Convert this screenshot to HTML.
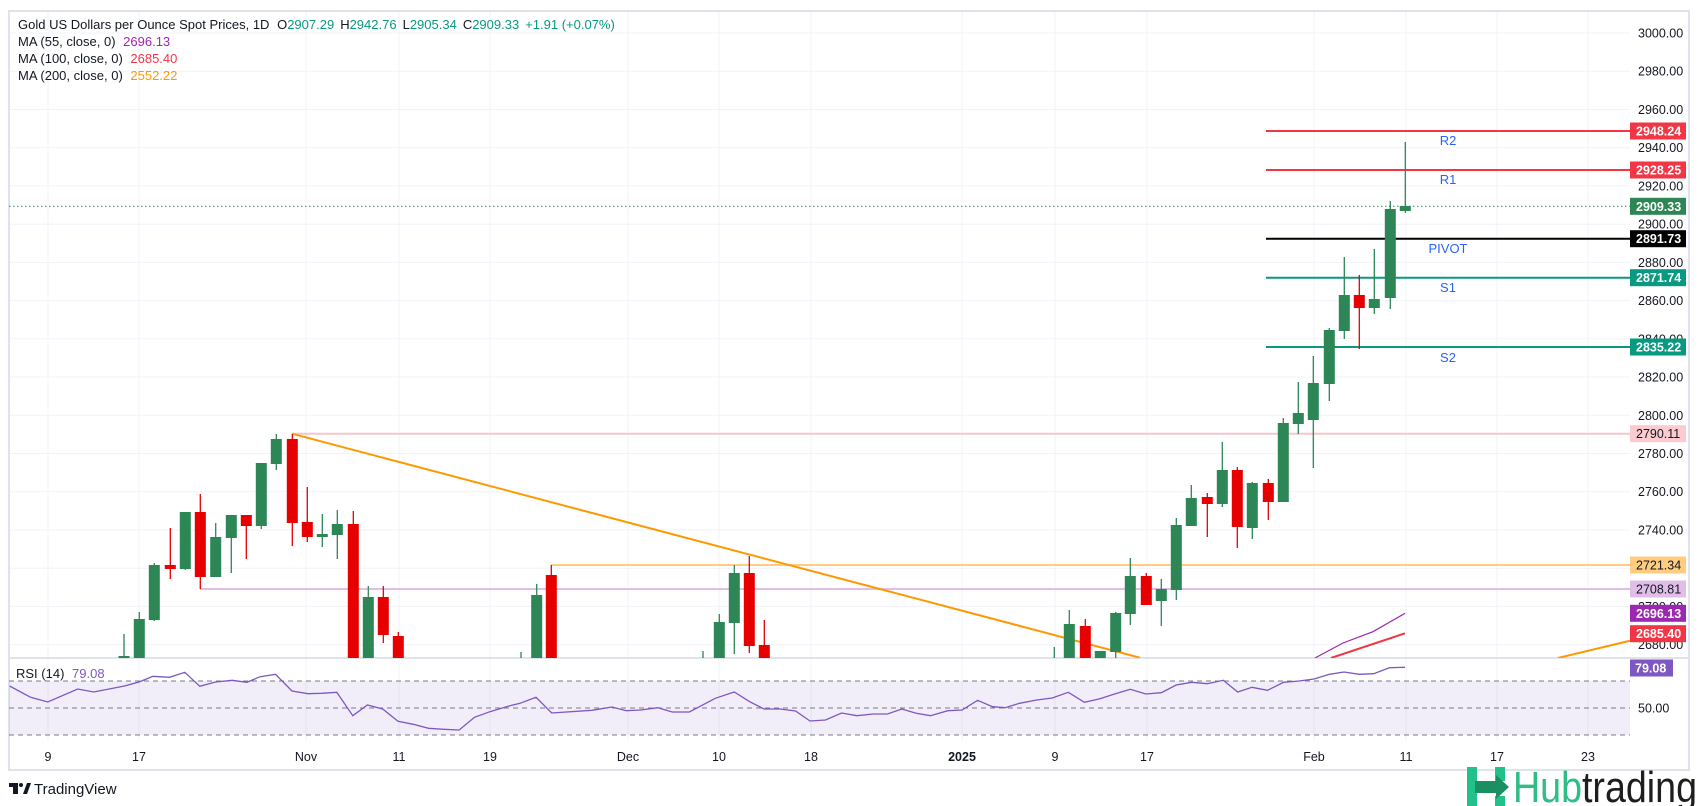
<!DOCTYPE html>
<html><head><meta charset="utf-8"><style>
html,body{margin:0;padding:0;background:#fff;}
svg{display:block;font-family:"Liberation Sans",Arial,sans-serif;}
</style></head><body>
<svg width="1700" height="806" viewBox="0 0 1700 806" xmlns="http://www.w3.org/2000/svg">
<defs><clipPath id="pc"><rect x="9" y="11" width="1621" height="647"/></clipPath></defs>
<rect width="1700" height="806" fill="#fff"/>
<g stroke="#f0f3fa" stroke-width="1">
<line x1="9" x2="1630" y1="33" y2="33"/><line x1="9" x2="1630" y1="71.2" y2="71.2"/><line x1="9" x2="1630" y1="109.5" y2="109.5"/><line x1="9" x2="1630" y1="147.7" y2="147.7"/><line x1="9" x2="1630" y1="185.9" y2="185.9"/><line x1="9" x2="1630" y1="224.2" y2="224.2"/><line x1="9" x2="1630" y1="262.4" y2="262.4"/><line x1="9" x2="1630" y1="300.6" y2="300.6"/><line x1="9" x2="1630" y1="338.8" y2="338.8"/><line x1="9" x2="1630" y1="377" y2="377"/><line x1="9" x2="1630" y1="415.3" y2="415.3"/><line x1="9" x2="1630" y1="453.5" y2="453.5"/><line x1="9" x2="1630" y1="491.7" y2="491.7"/><line x1="9" x2="1630" y1="530" y2="530"/><line x1="9" x2="1630" y1="568.2" y2="568.2"/><line x1="9" x2="1630" y1="606.4" y2="606.4"/><line x1="9" x2="1630" y1="644.7" y2="644.7"/>
<g>
<line x1="48" x2="48" y1="11" y2="740"/><line x1="139" x2="139" y1="11" y2="740"/><line x1="306" x2="306" y1="11" y2="740"/><line x1="399" x2="399" y1="11" y2="740"/><line x1="490" x2="490" y1="11" y2="740"/><line x1="628" x2="628" y1="11" y2="740"/><line x1="719" x2="719" y1="11" y2="740"/><line x1="811" x2="811" y1="11" y2="740"/><line x1="962" x2="962" y1="11" y2="740"/><line x1="1055" x2="1055" y1="11" y2="740"/><line x1="1147" x2="1147" y1="11" y2="740"/><line x1="1314" x2="1314" y1="11" y2="740"/><line x1="1406" x2="1406" y1="11" y2="740"/><line x1="1497" x2="1497" y1="11" y2="740"/><line x1="1588" x2="1588" y1="11" y2="740"/>
</g></g>
<rect x="9" y="11" width="1680" height="759" fill="none" stroke="#e0e3eb" stroke-width="2"/>
<line x1="9" x2="1689" y1="658" y2="658" stroke="#e0e3eb" stroke-width="2"/>

<g clip-path="url(#pc)">
<line x1="292" x2="1630" y1="433.7" y2="433.7" stroke="#f7c6ca" stroke-width="2"/>
<line x1="551" x2="1630" y1="565" y2="565" stroke="#ffcc80" stroke-width="2"/>
<line x1="200" x2="1630" y1="589" y2="589" stroke="#e1bee7" stroke-width="2"/>
<line x1="292" y1="433.7" x2="1140" y2="657.7" stroke="#ff9800" stroke-width="2"/>
<line x1="9" x2="1630" y1="206.3" y2="206.3" stroke="#2c8655" stroke-width="1" stroke-dasharray="1.5,2.5"/>
<line x1="1266" x2="1630" y1="131" y2="131" stroke="#f23645" stroke-width="2"/>
<line x1="1266" x2="1630" y1="170" y2="170" stroke="#f23645" stroke-width="2"/>
<line x1="1266" x2="1630" y1="238.7" y2="238.7" stroke="#000" stroke-width="2"/>
<line x1="1266" x2="1630" y1="277.7" y2="277.7" stroke="#089981" stroke-width="2"/>
<line x1="1266" x2="1630" y1="347" y2="347" stroke="#089981" stroke-width="2"/>
<polyline points="1315,658 1343,643 1373,631.7 1405,613.3" fill="none" stroke="#9c27b0" stroke-width="1.2"/>
<polyline points="1331,658 1405,633.3" fill="none" stroke="#f23645" stroke-width="2"/>
<polyline points="1558,658 1630,640.7" fill="none" stroke="#ff9800" stroke-width="2"/>
<g stroke-width="1.3">
<g fill="#2c8655" stroke="#2c8655">
<line x1="124" x2="124" y1="634" y2="665"/><rect x="118.5" y="656" width="11" height="9" stroke="none"/>
<line x1="139.3" x2="139.3" y1="612" y2="665"/><rect x="133.8" y="619" width="11" height="46" stroke="none"/>
<line x1="154.3" x2="154.3" y1="563" y2="621"/><rect x="148.8" y="565" width="11" height="55" stroke="none"/>
<line x1="185.3" x2="185.3" y1="512" y2="570"/><rect x="179.8" y="512" width="11" height="57" stroke="none"/>
<line x1="215.7" x2="215.7" y1="523" y2="577"/><rect x="210.2" y="537" width="11" height="40" stroke="none"/>
<line x1="231.3" x2="231.3" y1="515" y2="573"/><rect x="225.8" y="515" width="11" height="23" stroke="none"/>
<line x1="261.3" x2="261.3" y1="463" y2="529"/><rect x="255.8" y="463" width="11" height="63" stroke="none"/>
<line x1="276.3" x2="276.3" y1="434" y2="470"/><rect x="270.8" y="439" width="11" height="25" stroke="none"/>
<line x1="322.3" x2="322.3" y1="514" y2="547"/><rect x="316.8" y="534" width="11" height="3" stroke="none"/>
<line x1="337.3" x2="337.3" y1="510" y2="559"/><rect x="331.8" y="524" width="11" height="11" stroke="none"/>
<line x1="368.3" x2="368.3" y1="586" y2="665"/><rect x="362.8" y="597" width="11" height="68" stroke="none"/>
<line x1="521" x2="521" y1="652" y2="665"/>
<line x1="536.7" x2="536.7" y1="584" y2="665"/><rect x="531.2" y="595" width="11" height="70" stroke="none"/>
<line x1="703" x2="703" y1="651" y2="665"/>
<line x1="719.3" x2="719.3" y1="614" y2="665"/><rect x="713.8" y="622" width="11" height="43" stroke="none"/>
<line x1="734.3" x2="734.3" y1="565" y2="654"/><rect x="728.8" y="573" width="11" height="50" stroke="none"/>
<line x1="1054.3" x2="1054.3" y1="647" y2="665"/>
<line x1="1069.3" x2="1069.3" y1="610" y2="665"/><rect x="1063.8" y="624" width="11" height="41" stroke="none"/>
<line x1="1100.3" x2="1100.3" y1="651" y2="665"/><rect x="1094.8" y="651" width="11" height="14" stroke="none"/>
<line x1="1115.7" x2="1115.7" y1="612" y2="665"/><rect x="1110.2" y="613" width="11" height="39" stroke="none"/>
<line x1="1130.3" x2="1130.3" y1="558" y2="625"/><rect x="1124.8" y="576" width="11" height="38" stroke="none"/>
<line x1="1161.3" x2="1161.3" y1="579" y2="626"/><rect x="1155.8" y="589" width="11" height="12" stroke="none"/>
<line x1="1176.3" x2="1176.3" y1="518" y2="600"/><rect x="1170.8" y="525" width="11" height="65" stroke="none"/>
<line x1="1191.3" x2="1191.3" y1="485" y2="526"/><rect x="1185.8" y="498" width="11" height="28" stroke="none"/>
<line x1="1222.3" x2="1222.3" y1="442" y2="507"/><rect x="1216.8" y="470" width="11" height="34" stroke="none"/>
<line x1="1252.3" x2="1252.3" y1="482" y2="539"/><rect x="1246.8" y="483" width="11" height="45" stroke="none"/>
<line x1="1283.3" x2="1283.3" y1="418" y2="502"/><rect x="1277.8" y="423" width="11" height="79" stroke="none"/>
<line x1="1298.3" x2="1298.3" y1="382" y2="434"/><rect x="1292.8" y="413" width="11" height="11" stroke="none"/>
<line x1="1313.3" x2="1313.3" y1="356" y2="468"/><rect x="1307.8" y="383" width="11" height="37" stroke="none"/>
<line x1="1329.3" x2="1329.3" y1="328" y2="401"/><rect x="1323.8" y="330" width="11" height="54" stroke="none"/>
<line x1="1344.3" x2="1344.3" y1="257" y2="339"/><rect x="1338.8" y="295" width="11" height="36" stroke="none"/>
<line x1="1374.3" x2="1374.3" y1="249" y2="314"/><rect x="1368.8" y="299" width="11" height="9" stroke="none"/>
<line x1="1390.3" x2="1390.3" y1="201" y2="309"/><rect x="1384.8" y="209" width="11" height="89" stroke="none"/>
<line x1="1405.3" x2="1405.3" y1="142" y2="213"/><rect x="1399.8" y="206" width="11" height="5" stroke="none"/>
</g>
<g fill="#e60000" stroke="#e60000">
<line x1="170.3" x2="170.3" y1="528" y2="579"/><rect x="164.8" y="565" width="11" height="4" stroke="none"/>
<line x1="200.3" x2="200.3" y1="494" y2="589"/><rect x="194.8" y="512" width="11" height="65" stroke="none"/>
<line x1="246.3" x2="246.3" y1="515" y2="559"/><rect x="240.8" y="515" width="11" height="11" stroke="none"/>
<line x1="292.3" x2="292.3" y1="434" y2="546"/><rect x="286.8" y="439" width="11" height="84" stroke="none"/>
<line x1="307.3" x2="307.3" y1="487" y2="542"/><rect x="301.8" y="522" width="11" height="15" stroke="none"/>
<line x1="353.3" x2="353.3" y1="511" y2="665"/><rect x="347.8" y="524" width="11" height="141" stroke="none"/>
<line x1="383.3" x2="383.3" y1="586" y2="643"/><rect x="377.8" y="597" width="11" height="38" stroke="none"/>
<line x1="398.3" x2="398.3" y1="632" y2="665"/><rect x="392.8" y="636" width="11" height="29" stroke="none"/>
<line x1="551.3" x2="551.3" y1="565" y2="665"/><rect x="545.8" y="575" width="11" height="90" stroke="none"/>
<line x1="749.3" x2="749.3" y1="556" y2="653"/><rect x="743.8" y="573" width="11" height="73" stroke="none"/>
<line x1="764.3" x2="764.3" y1="620" y2="665"/><rect x="758.8" y="645" width="11" height="20" stroke="none"/>
<line x1="1085.3" x2="1085.3" y1="619" y2="665"/><rect x="1079.8" y="626" width="11" height="39" stroke="none"/>
<line x1="1146.3" x2="1146.3" y1="573" y2="587"/><rect x="1140.8" y="576" width="11" height="29" stroke="none"/>
<line x1="1207.3" x2="1207.3" y1="493" y2="537"/><rect x="1201.8" y="497" width="11" height="7" stroke="none"/>
<line x1="1237.3" x2="1237.3" y1="467" y2="548"/><rect x="1231.8" y="470" width="11" height="57" stroke="none"/>
<line x1="1268.3" x2="1268.3" y1="479" y2="520"/><rect x="1262.8" y="483" width="11" height="19" stroke="none"/>
<line x1="1359.3" x2="1359.3" y1="275" y2="349"/><rect x="1353.8" y="295" width="11" height="13" stroke="none"/>
</g></g>
</g>
<g fill="#2962ff" font-size="13" text-anchor="middle">
<text x="1448" y="145">R2</text><text x="1448" y="184">R1</text><text x="1448" y="253">PIVOT</text><text x="1448" y="292">S1</text><text x="1448" y="362">S2</text>
</g>
<g fill="#131722" font-size="12.5">
<text x="1638" y="37.5">3000.00</text><text x="1638" y="75.7">2980.00</text><text x="1638" y="114">2960.00</text><text x="1638" y="152.2">2940.00</text><text x="1638" y="190.4">2920.00</text><text x="1638" y="228.7">2900.00</text><text x="1638" y="266.9">2880.00</text><text x="1638" y="305.1">2860.00</text><text x="1638" y="343.3">2840.00</text><text x="1638" y="381.5">2820.00</text><text x="1638" y="419.8">2800.00</text><text x="1638" y="458">2780.00</text><text x="1638" y="496.2">2760.00</text><text x="1638" y="534.5">2740.00</text><text x="1638" y="611">2700.00</text><text x="1638" y="649.2">2680.00</text>
</g>
<g font-size="12.5" font-weight="bold">
<rect x="1630" y="122.5" width="56" height="17" fill="#f23645"/><text x="1636" y="135.5" fill="#fff">2948.24</text>
<rect x="1630" y="161.5" width="56" height="17" fill="#f23645"/><text x="1636" y="174.5" fill="#fff">2928.25</text>
<rect x="1630" y="197.8" width="56" height="17" fill="#2c8655"/><text x="1636" y="210.8" fill="#fff">2909.33</text>
<rect x="1630" y="230.2" width="56" height="17" fill="#000"/><text x="1636" y="243.2" fill="#fff">2891.73</text>
<rect x="1630" y="269.2" width="56" height="17" fill="#089981"/><text x="1636" y="282.2" fill="#fff">2871.74</text>
<rect x="1630" y="338.5" width="56" height="17" fill="#089981"/><text x="1636" y="351.5" fill="#fff">2835.22</text>
<rect x="1630" y="425.2" width="56" height="17" fill="#fccbcf"/><text x="1636" y="438.2" fill="#131722" font-weight="normal">2790.11</text>
<rect x="1630" y="556.5" width="56" height="17" fill="#ffcc80"/><text x="1636" y="569.5" fill="#131722" font-weight="normal">2721.34</text>
<rect x="1630" y="580.5" width="56" height="17" fill="#e1bee7"/><text x="1636" y="593.5" fill="#131722" font-weight="normal">2708.81</text>
<rect x="1630" y="604.8" width="56" height="17" fill="#9c27b0"/><text x="1636" y="617.8" fill="#fff">2696.13</text>
<rect x="1630" y="625.2" width="56" height="17" fill="#f23645"/><text x="1636" y="638.2" fill="#fff">2685.40</text>
</g>
<rect x="9" y="681" width="1621" height="54" fill="#7e57c2" fill-opacity="0.1"/>
<g stroke="#787b86" stroke-dasharray="5,4" stroke-width="1">
<line x1="9" x2="1630" y1="681" y2="681"/><line x1="9" x2="1630" y1="708" y2="708"/><line x1="9" x2="1630" y1="735" y2="735"/>
</g>
<polyline fill="none" stroke="#7e57c2" stroke-width="1.3" points="9.6,686 30.6,697.3 47.8,702 77.7,689 93.8,692 124.4,686 139,682 153,676.3 169.5,677.3 184.8,672.3 199.8,686.3 215.5,682 232.3,680.3 246.8,682.3 260.2,676.7 275.5,674.3 292,691 308,693.7 321.5,693.3 336.8,692.3 352.8,715.7 367.4,705 382.7,709 398,721.3 413.3,724.3 428.6,728.3 443.9,729.3 459.2,730 474.5,717.3 489.9,711.7 509,706 520,703.3 536,697.3 551.7,713 591.8,710.3 612,707 626.3,710.7 640.6,710 657.9,707.7 672.2,712 689.4,712 715.3,698.3 734.2,692 749.7,701.7 764,709 780.1,709 795.6,711 810,721 825.5,720 841.6,713 857,715.7 873.1,714 887.5,714 901.8,709 916.2,713.3 930.5,715.7 947.8,710.7 962.1,710 977.6,700.3 992.5,706.7 1005.2,707.7 1019.5,703.3 1036.7,700 1052.2,698 1068.3,692.3 1084.4,702.3 1099.9,698.7 1115.4,693.7 1130.3,689.3 1145.8,694 1161.3,692.7 1176.2,685 1191.7,682.3 1207.2,683.7 1223.3,680.3 1237.7,692 1252,687.3 1267.5,690.3 1283.6,682.3 1299.1,681 1314,679 1329.5,674.3 1343.9,672 1359.4,674.3 1373.7,673.7 1389.8,667.7 1405,667.3"/>
<text x="1638" y="712.5" fill="#131722" font-size="12.5">50.00</text>
<rect x="1630" y="659.5" width="43" height="17" fill="#7e57c2"/><text x="1635" y="672.5" fill="#fff" font-size="12.5" font-weight="bold">79.08</text>
<text x="16" y="678" font-size="13" fill="#131722">RSI (14) <tspan fill="#7e57c2" dx="4">79.08</tspan></text>
<g fill="#131722" font-size="12.5" text-anchor="middle">
<text x="48" y="761">9</text><text x="139" y="761">17</text><text x="306" y="761">Nov</text><text x="399" y="761">11</text><text x="490" y="761">19</text><text x="628" y="761">Dec</text><text x="719" y="761">10</text><text x="811" y="761">18</text><text x="962" y="761" font-weight="bold">2025</text><text x="1055" y="761">9</text><text x="1147" y="761">17</text><text x="1314" y="761">Feb</text><text x="1406" y="761">11</text><text x="1497" y="761">17</text><text x="1588" y="761">23</text>
</g>
<g font-size="13" fill="#131722">
<text x="18" y="29">Gold US Dollars per Ounce Spot Prices, 1D  <tspan dx="4">O</tspan><tspan fill="#089981">2907.29</tspan><tspan dx="6">H</tspan><tspan fill="#089981">2942.76</tspan><tspan dx="6">L</tspan><tspan fill="#089981">2905.34</tspan><tspan dx="6">C</tspan><tspan fill="#089981">2909.33</tspan><tspan dx="6" fill="#089981">+1.91 (+0.07%)</tspan></text>
<text x="18" y="46">MA (55, close, 0) <tspan dx="4" fill="#9c27b0">2696.13</tspan></text>
<text x="18" y="63">MA (100, close, 0) <tspan dx="4" fill="#f23645">2685.40</tspan></text>
<text x="18" y="80">MA (200, close, 0) <tspan dx="4" fill="#ff9800">2552.22</tspan></text>
</g>
<g>
<rect x="9" y="783" width="9" height="4" fill="#131722"/><rect x="13" y="783" width="5" height="11" fill="#131722"/>
<circle cx="21" cy="785" r="2" fill="#131722"/><polygon points="23,794 27,783 31,783 27,794" fill="#131722"/>
<text x="34" y="794" font-size="15" fill="#131722">TradingView</text>
</g>
<g>
<rect x="1467" y="767" width="10" height="39" fill="#22c08a"/>
<rect x="1495" y="767" width="10" height="14" fill="#22c08a"/>
<rect x="1495" y="796" width="10" height="10" fill="#22c08a"/>
<polygon points="1475,781 1496,781 1496,775 1509,787 1496,799 1496,793 1475,793" fill="#1a8f5f"/>
<text x="1513" y="802" font-size="44" textLength="184" lengthAdjust="spacingAndGlyphs" fill="#2ebd85">Hub<tspan fill="#1e1e1e">trading</tspan></text>
</g>
</svg>
</body></html>
